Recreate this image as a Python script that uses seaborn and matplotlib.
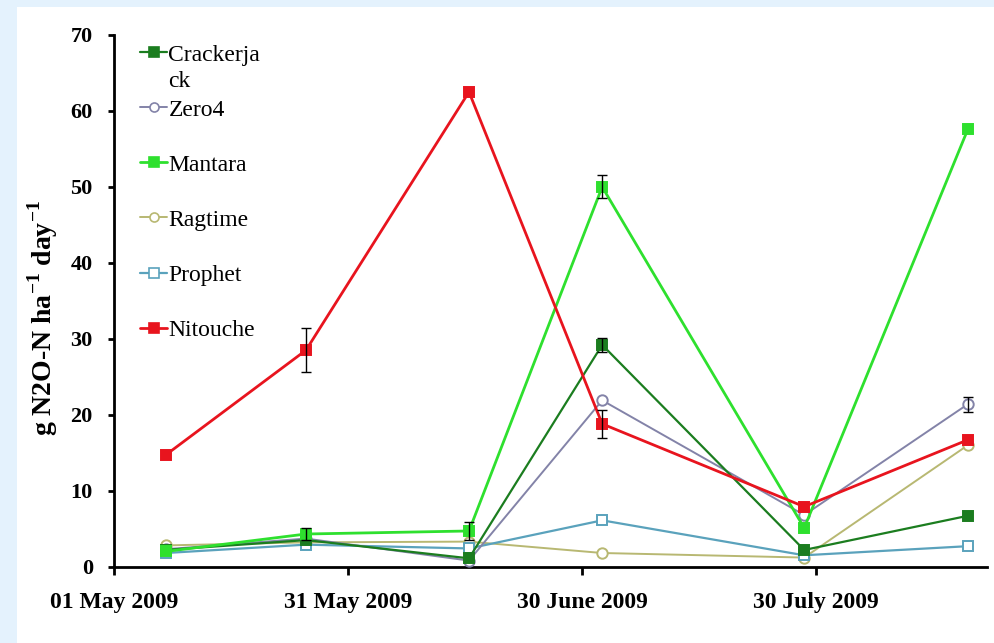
import matplotlib
matplotlib.use('Agg')
import matplotlib.pyplot as plt
import matplotlib.dates as mdates
from matplotlib.patches import Rectangle
from matplotlib.lines import Line2D
import seaborn as sns
import pandas as pd
import numpy as np

# sampling dates and N2O flux per cultivar
dates = ["2009-05-07 14:00", "2009-05-25 14:00", "2009-06-15 12:00",
         "2009-07-02 14:00", "2009-07-28 12:00", "2009-08-18 12:00"]
cultivars = ["Crackerjack", "Zero4", "Mantara", "Ragtime", "Prophet", "Nitouche"]

crackerjack = [2.2, 3.5, 1.1, 29.2, 2.2, 6.7]
zero4 = [2.3, 3.7, 0.8, 21.9, 6.8, 21.4]
mantara = [2.0, 4.3, 4.7, 50.0, 5.1, 57.6]
ragtime = [2.8, 3.2, 3.3, 1.8, 1.2, 16.0]
prophet = [1.8, 2.9, 2.4, 6.1, 1.5, 2.7]
nitouche = [14.7, 28.5, 62.5, 18.8, 7.9, 16.7]

crackerjack_err = [0.0, 0.0, 0.0, 0.9, 0.0, 0.0]
zero4_err = [0.0, 0.0, 0.0, 0.0, 0.0, 1.0]
mantara_err = [0.0, 0.8, 1.2, 1.5, 0.0, 0.0]
ragtime_err = [0.0, 0.0, 0.0, 0.0, 0.0, 0.0]
prophet_err = [0.0, 0.0, 0.0, 0.0, 0.0, 0.0]
nitouche_err = [0.0, 2.9, 0.0, 1.8, 0.0, 0.0]

values = [crackerjack, zero4, mantara, ragtime, prophet, nitouche]
errors = [crackerjack_err, zero4_err, mantara_err, ragtime_err, prophet_err, nitouche_err]

colors = {"Crackerjack": "#1b7d1f", "Zero4": "#8383a8", "Mantara": "#2ee02e",
          "Ragtime": "#b8b872", "Prophet": "#5aa2bc", "Nitouche": "#e8141e"}
markers = {"Crackerjack": "s", "Zero4": "o", "Mantara": "s",
           "Ragtime": "o", "Prophet": "s", "Nitouche": "s"}
filled = {"Crackerjack": True, "Zero4": False, "Mantara": True,
          "Ragtime": False, "Prophet": False, "Nitouche": True}
widths = {"Crackerjack": 1.6, "Zero4": 1.4, "Mantara": 2.0,
          "Ragtime": 1.4, "Prophet": 1.6, "Nitouche": 2.0}

rows = []
for name, vals, errs in zip(cultivars, values, errors):
    for d, v, e in zip(dates, vals, errs):
        rows.append({"date": pd.Timestamp(d), "cultivar": name, "flux": v, "err": e})
df = pd.DataFrame(rows)

sns.set_style("ticks")
plt.rcParams['font.family'] = ['Liberation Serif', 'DejaVu Serif']
plt.rcParams['text.color'] = 'black'
plt.rcParams['axes.labelcolor'] = 'black'
plt.rcParams['mathtext.fontset'] = 'custom'
plt.rcParams['mathtext.rm'] = 'Liberation Serif:bold'
plt.rcParams['mathtext.bf'] = 'Liberation Serif:bold'

fig = plt.figure(figsize=(9.95, 6.43), dpi=100, facecolor="#e4f2fd")
fig.patches.append(Rectangle((17 / 995, 0), 1, 1 - 7 / 643, transform=fig.transFigure,
                             facecolor="white", edgecolor="none", zorder=-10))
ax = fig.add_axes([0.1149, 0.1187, 0.8768, 0.8269])
ax.set_facecolor("white")

# draw order: Nitouche last so it sits on top
order = ["Ragtime", "Prophet", "Zero4", "Crackerjack", "Mantara", "Nitouche"]
for name in order:
    sub = df[df["cultivar"] == name]
    sns.lineplot(data=sub, x="date", y="flux", ax=ax, color=colors[name],
                 linewidth=widths[name], marker=markers[name], markersize=7.5,
                 markeredgecolor=colors[name], markeredgewidth=1.4,
                 markerfacecolor=colors[name] if filled[name] else "white",
                 errorbar=None, legend=False, zorder=3)
    m = sub["err"] > 0
    ax.errorbar(sub["date"][m], sub["flux"][m], yerr=sub["err"][m], fmt="none",
                ecolor="black", elinewidth=1.0, capsize=3.5, capthick=1.0, zorder=4)

ax.set_ylim(0, 70)
ax.set_yticks(np.arange(0, 71, 10))
ax.set_xlim(pd.Timestamp("2009-05-01"), pd.Timestamp("2009-08-20 22:00"))
ax.set_xticks(pd.to_datetime(["2009-05-01", "2009-05-31", "2009-06-30", "2009-07-30"]))
ax.xaxis.set_major_formatter(mdates.DateFormatter("%d %B %Y"))
ax.set_xlabel("")
ax.set_ylabel(r"g N2O-N ha$^{-1}$ day$^{-1}$", fontsize=20, fontweight="bold")
ax.yaxis.set_label_coords(-0.062, 0.468)

for s in ["top", "right"]:
    ax.spines[s].set_visible(False)
for s in ["left", "bottom"]:
    ax.spines[s].set_linewidth(2.0)
    ax.spines[s].set_color("black")
ax.tick_params(axis="y", length=4.5, width=2, pad=11, labelsize=16, colors="black")
ax.tick_params(axis="x", length=6, width=2, pad=12, labelsize=17, colors="black")
for lab in ax.get_xticklabels() + ax.get_yticklabels():
    lab.set_fontweight("bold")

# legend (Excel wrapped the first label, so its tail goes on a second line)
handles = []
labels = []
for name in cultivars:
    handles.append(Line2D([], [], color=colors[name], linewidth=widths[name],
                          marker=markers[name], markersize=6.5,
                          markeredgecolor=colors[name], markeredgewidth=1.2,
                          markerfacecolor=colors[name] if filled[name] else "white"))
    labels.append("Crackerja" if name == "Crackerjack" else name)
leg = ax.legend(handles, labels, loc="upper left", bbox_to_anchor=(0.0295, 0.983),
                frameon=False, fontsize=17, handlelength=1.15, handletextpad=0.05,
                labelspacing=1.42, borderaxespad=0, borderpad=0)
for t in leg.get_texts():
    t.set_color("black")
ax.annotate("ck", xy=(0, 0), xycoords=leg.get_texts()[0], xytext=(0, -4),
            textcoords="offset points", va="top", ha="left", fontsize=17,
            color="black", annotation_clip=False, zorder=6)

plt.savefig("out.png", dpi=100, facecolor=fig.get_facecolor())
plt.close()
